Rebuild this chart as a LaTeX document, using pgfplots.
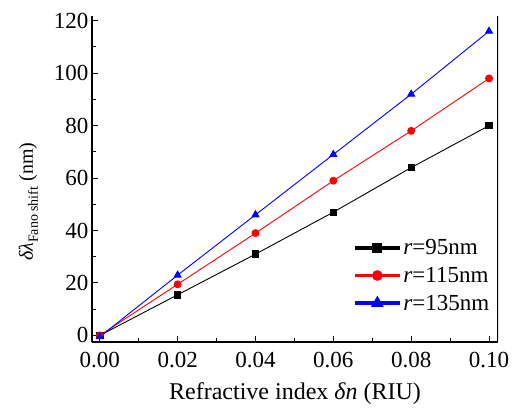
\documentclass[border=0pt]{standalone}
\usepackage{fontspec}
\setmainfont{Liberation Serif}
\usepackage{pgfplots}
\pgfplotsset{compat=1.18}

\begin{document}
\begin{tikzpicture}
\begin{axis}[
  scale only axis,
  width=406pt, height=326pt,
  xmin=-0.002, xmax=0.1023,
  ymin=-2.5, ymax=121.8,
  axis x line*=bottom,
  axis y line*=left,
  axis line style={line width=1.2pt},
  xtick={0,0.02,...,0.1},
  minor xtick={0.01,0.03,...,0.09},
  ytick={0,20,...,120},
  minor ytick={10,30,...,110},
  tick align=inside,
  major tick length=6pt,
  minor tick length=4pt,
  tick style={line width=1pt,black},
  xticklabel style={yshift=-7pt,/pgf/number format/fixed,
    /pgf/number format/fixed zerofill,/pgf/number format/precision=2},
  /pgf/number format/assume math mode=true,
  ticklabel style={font=\fontsize{23}{25}\selectfont},
  label style={font=\fontsize{24}{26}\selectfont},
  xlabel={Refractive index \textit{δn} (RIU)},
  ylabel={\fontsize{20}{22}\selectfont\textit{δλ}\raisebox{-0.25em}{\fontsize{14}{16}\selectfont Fano shift} (nm)},
  xlabel style={yshift=-8pt},
  ylabel style={at={(ticklabel cs:0.43)},anchor=south,yshift=9pt},
  legend style={at={(0.99,0.082)},anchor=south east,draw=none,fill=none,
    font=\fontsize{23}{23}\selectfont,row sep=8pt,
    nodes={inner sep=1.5pt},
    /tikz/every even column/.append style={column sep=0pt}},
  legend cell align=left,
  legend image code/.code={
    \draw[#1,line width=3.5pt,mark repeat=2,mark phase=2] plot coordinates {(0cm,0cm) (0.8cm,0cm) (1.6cm,0cm)};},
]
\addplot[black,line width=0.9pt,mark=square*,mark size=3.2pt] coordinates {
  (0,0) (0.02,15.5) (0.04,31) (0.06,47) (0.08,64) (0.10,80)};
\addplot[red,line width=0.9pt,mark=*,mark size=3.5pt] coordinates {
  (0,0) (0.02,19.5) (0.04,39) (0.06,59) (0.08,78) (0.10,98)};
\addplot[blue,line width=0.9pt,mark=triangle*,mark size=4pt] coordinates {
  (0,-0.5) (0.02,23) (0.04,46) (0.06,69) (0.08,92) (0.10,116)};
\legend{\textit{r}=95nm,\textit{r}=115nm,\textit{r}=135nm}
\draw[line width=1.2pt] (rel axis cs:1,0) -- (rel axis cs:1,1);
\end{axis}
\pgfresetboundingbox
\path ([shift={(-92pt,-68pt)}]current axis.south west) rectangle ([shift={(19pt,16pt)}]current axis.north east);
\end{tikzpicture}
\end{document}
